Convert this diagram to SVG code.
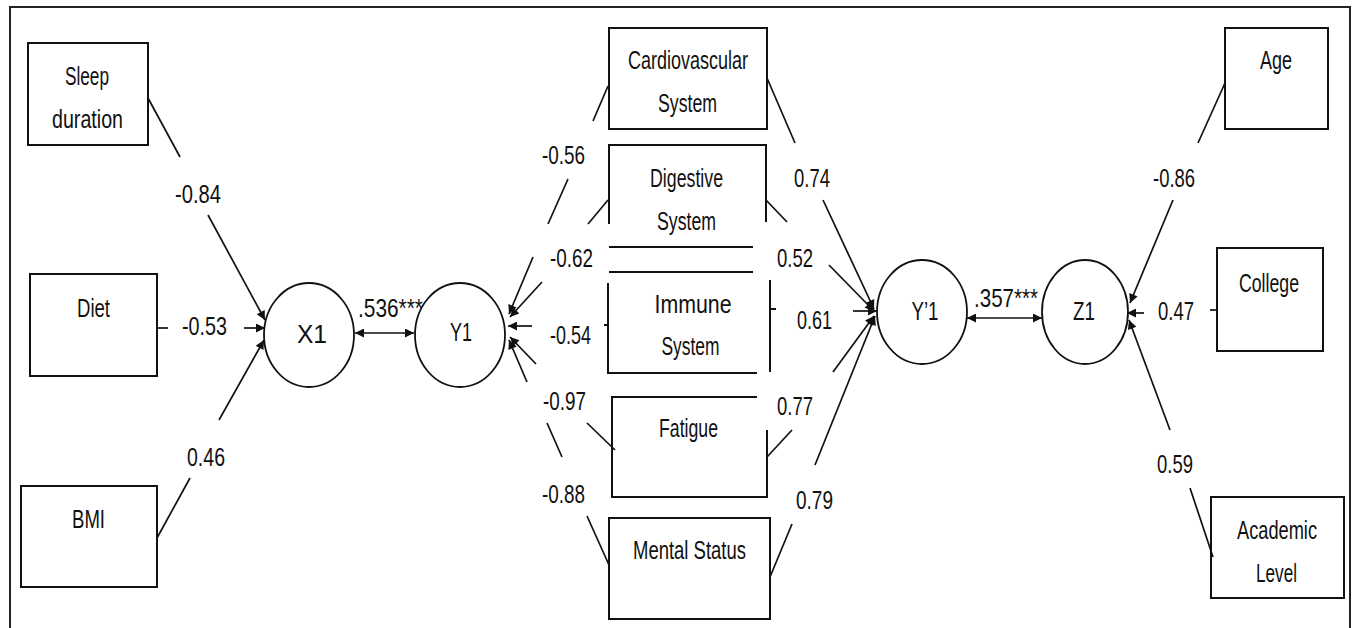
<svg xmlns="http://www.w3.org/2000/svg" width="1354" height="628" viewBox="0 0 1354 628">
<style>
.bx{fill:none;stroke:#111;stroke-width:2}
.ln{fill:none;stroke:#111;stroke-width:1.7}
.lv{fill:#fff;stroke:#111;stroke-width:1.8}
text{font-family:"Liberation Sans",Arial,sans-serif;font-size:26px;fill:#111;text-anchor:middle}
</style>
<defs>
<marker id="ah" viewBox="0 0 10 10" refX="10" refY="5" markerWidth="12" markerHeight="9" orient="auto-start-reverse" markerUnits="userSpaceOnUse">
<path d="M0,0 L10,5 L0,10 z" fill="#111"/>
</marker>
</defs>
<rect width="1354" height="628" fill="#fff"/>
<path d="M10,632 V7 H1350 V632" fill="none" stroke="#222" stroke-width="2"/>

<g id="sleep"><rect class="bx" x="28" y="43" width="120" height="102"/><text x="87" y="85" textLength="44" lengthAdjust="spacingAndGlyphs">Sleep</text><text x="87.5" y="128" textLength="71" lengthAdjust="spacingAndGlyphs">duration</text></g>
<g id="diet"><rect class="bx" x="30" y="274" width="127" height="102"/><text x="93.5" y="317" textLength="33" lengthAdjust="spacingAndGlyphs">Diet</text></g>
<g id="bmi"><rect class="bx" x="21" y="486" width="136" height="101"/><text x="88.5" y="528" textLength="33" lengthAdjust="spacingAndGlyphs">BMI</text></g>
<g id="x1"><ellipse class="lv" cx="309" cy="335" rx="45" ry="52"/><text x="312" y="343" textLength="30" lengthAdjust="spacingAndGlyphs">X1</text></g>
<g id="y1"><ellipse class="lv" cx="460" cy="335" rx="45" ry="52"/><text x="461" y="341" textLength="22" lengthAdjust="spacingAndGlyphs">Y1</text></g>

<g id="cardio"><rect class="bx" x="609" y="28" width="158" height="101"/><text x="688" y="69" textLength="120" lengthAdjust="spacingAndGlyphs">Cardiovascular</text><text x="687.5" y="112" textLength="59" lengthAdjust="spacingAndGlyphs">System</text></g>
<g id="digestive"><path class="bx" d="M609,224 V145 H766 V222"/><path class="bx" d="M609,247 H753 M609,272 H753"/><text x="686.5" y="187" textLength="73" lengthAdjust="spacingAndGlyphs">Digestive</text><text x="686.5" y="230" textLength="59" lengthAdjust="spacingAndGlyphs">System</text></g>
<g id="immune"><path class="bx" d="M608,283 V373 H757 M770,280 V372 M770,309 H776 M604,325 H608"/><text x="693" y="313" textLength="77" lengthAdjust="spacingAndGlyphs">Immune</text><text x="690.5" y="355" textLength="58" lengthAdjust="spacingAndGlyphs">System</text></g>
<g id="fatigue"><path class="bx" d="M757,397 H612 V497 H767 V430"/><text x="688.5" y="437" textLength="59" lengthAdjust="spacingAndGlyphs">Fatigue</text></g>
<g id="mental"><rect class="bx" x="609" y="518" width="161" height="101"/><text x="689.5" y="559" textLength="113" lengthAdjust="spacingAndGlyphs">Mental Status</text></g>

<g id="y1p"><ellipse class="lv" cx="922" cy="312" rx="45" ry="52"/><text x="925" y="320" textLength="27" lengthAdjust="spacingAndGlyphs">Y’1</text></g>
<g id="z1"><ellipse class="lv" cx="1085" cy="312" rx="43" ry="52"/><text x="1084" y="320" textLength="22" lengthAdjust="spacingAndGlyphs">Z1</text></g>
<g id="age"><rect class="bx" x="1225" y="28" width="103" height="101"/><text x="1276" y="69" textLength="32" lengthAdjust="spacingAndGlyphs">Age</text></g>
<g id="college"><rect class="bx" x="1217" y="248" width="106" height="103"/><text x="1269" y="292" textLength="60" lengthAdjust="spacingAndGlyphs">College</text></g>
<g id="academic"><rect class="bx" x="1211" y="497" width="133" height="101"/><text x="1277" y="539" textLength="80" lengthAdjust="spacingAndGlyphs">Academic</text><text x="1276.5" y="582" textLength="41" lengthAdjust="spacingAndGlyphs">Level</text></g>

<g id="connectors">
<path class="ln" d="M148,98 L180,157"/>
<path class="ln" d="M208,215 L265,320" marker-end="url(#ah)"/>
<path class="ln" d="M157,328 H168"/>
<path class="ln" d="M244,328 H265" marker-end="url(#ah)"/>
<path class="ln" d="M157,538 L190,478"/>
<path class="ln" d="M219,420 L264,340" marker-end="url(#ah)"/>
<path class="ln" d="M355,333 H414" marker-start="url(#ah)" marker-end="url(#ah)"/>

<path class="ln" d="M608,86 L593,121 M568,179 L548,224"/>
<path class="ln" d="M533,257 L509,314" marker-end="url(#ah)"/>
<path class="ln" d="M608,200 L588,224"/>
<path class="ln" d="M542,282 L510,317" marker-end="url(#ah)"/>
<path class="ln" d="M532,326 H508" marker-end="url(#ah)"/>
<path class="ln" d="M536,364 L510,337" marker-end="url(#ah)"/>
<path class="ln" d="M615,450 L587,423"/>
<path class="ln" d="M609,565 L587,516 M562,457 L547,423"/>
<path class="ln" d="M527,382 L509,340" marker-end="url(#ah)"/>

<path class="ln" d="M767,78 L795,143"/>
<path class="ln" d="M823,200 L874,309" marker-end="url(#ah)"/>
<path class="ln" d="M766,200 L787,222"/>
<path class="ln" d="M829,265 L874,311" marker-end="url(#ah)"/>
<path class="ln" d="M853,311 H877" marker-end="url(#ah)"/>
<path class="ln" d="M767,457 L792,430"/>
<path class="ln" d="M833,372 L874,316" marker-end="url(#ah)"/>
<path class="ln" d="M770,577 L792,524"/>
<path class="ln" d="M815,465 L875,316" marker-end="url(#ah)"/>
<path class="ln" d="M967,318 H1042" marker-start="url(#ah)" marker-end="url(#ah)"/>

<path class="ln" d="M1225,83 L1198,143"/>
<path class="ln" d="M1173,200 L1130,303" marker-end="url(#ah)"/>
<path class="ln" d="M1210,310 H1217"/>
<path class="ln" d="M1144,313 H1127" marker-end="url(#ah)"/>
<path class="ln" d="M1213,557 L1190,488"/>
<path class="ln" d="M1170,430 L1129,320" marker-end="url(#ah)"/>
</g>

<g id="labels">
<text x="198" y="203" textLength="46" lengthAdjust="spacingAndGlyphs">-0.84</text>
<text x="204.5" y="335" textLength="45" lengthAdjust="spacingAndGlyphs">-0.53</text>
<text x="206" y="466" textLength="38" lengthAdjust="spacingAndGlyphs">0.46</text>
<text x="390.5" y="317" textLength="65" lengthAdjust="spacingAndGlyphs">.536***</text>
<text x="563.5" y="164" textLength="43" lengthAdjust="spacingAndGlyphs">-0.56</text>
<text x="571.5" y="267" textLength="43" lengthAdjust="spacingAndGlyphs">-0.62</text>
<text x="570.5" y="344" textLength="41" lengthAdjust="spacingAndGlyphs">-0.54</text>
<text x="564.5" y="410" textLength="43" lengthAdjust="spacingAndGlyphs">-0.97</text>
<text x="563.5" y="503" textLength="43" lengthAdjust="spacingAndGlyphs">-0.88</text>
<text x="812" y="187" textLength="36" lengthAdjust="spacingAndGlyphs">0.74</text>
<text x="795" y="267" textLength="36" lengthAdjust="spacingAndGlyphs">0.52</text>
<text x="814.5" y="329" textLength="35" lengthAdjust="spacingAndGlyphs">0.61</text>
<text x="795" y="415" textLength="36" lengthAdjust="spacingAndGlyphs">0.77</text>
<text x="814.5" y="509" textLength="37" lengthAdjust="spacingAndGlyphs">0.79</text>
<text x="1006" y="307" textLength="64" lengthAdjust="spacingAndGlyphs">.357***</text>
<text x="1174" y="187" textLength="42" lengthAdjust="spacingAndGlyphs">-0.86</text>
<text x="1176" y="320" textLength="36" lengthAdjust="spacingAndGlyphs">0.47</text>
<text x="1175" y="473" textLength="36" lengthAdjust="spacingAndGlyphs">0.59</text>
</g>
</svg>
